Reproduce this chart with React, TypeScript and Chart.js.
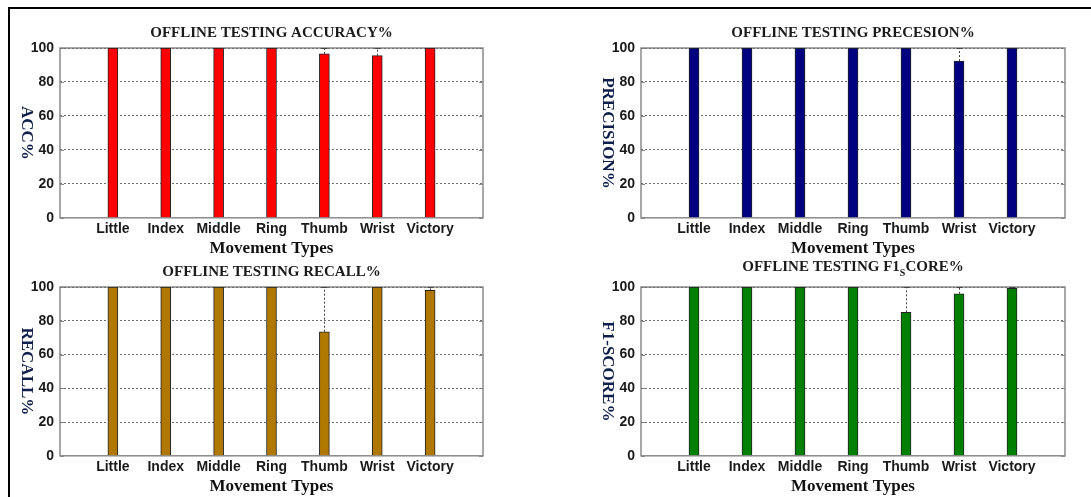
import React, { useEffect, useRef } from 'react';
import { Chart, registerables } from 'chart.js';

Chart.register(...registerables);

// ---------- data ----------
const categories = ['Little', 'Index', 'Middle', 'Ring', 'Thumb', 'Wrist', 'Victory'];
const yTicks = [0, 20, 40, 60, 80, 100];
const xTitle = 'Movement Types';

const accuracy = [100, 100, 100, 100, 96.5, 95.5, 100];
const accuracyErrTop: (number | null)[] = [null, null, null, null, 100, 100, null];

const precision = [100, 100, 100, 100, 100, 92.3, 100];
const precisionErrTop: (number | null)[] = [null, null, null, null, null, 100, null];

const recall = [100, 100, 100, 100, 73.5, 100, 98];
const recallErrTop: (number | null)[] = [null, null, null, null, 100, null, 100];

const f1score = [100, 100, 100, 100, 85, 96, 99.2];
const f1ErrTop: (number | null)[] = [null, null, null, null, 100, 100, 100];

// ---------- styling ----------
const SERIF = '"Liberation Serif", "Times New Roman", serif';
const SANS = '"Liberation Sans", Arial, sans-serif';

type Part = { text: string; sub?: boolean };

interface PanelSpec {
  title: Part[];
  yTitle: string;
  values: number[];
  errTop: (number | null)[];
  color: string;
  left: number;
  top: number;
  width: number;
  height: number;
  padTop: number;
  padRight: number;
  padBottom: number;
  axisWidth: number;
  titleGap: number;
}

function Panel({ spec }: { spec: PanelSpec }) {
  const ref = useRef<HTMLCanvasElement>(null);

  useEffect(() => {
    if (!ref.current) return;
    const labels = ['', ...categories, ''];
    const data = [null, ...spec.values, null];

    const decor = {
      id: 'decor',
      beforeDraw(chart: any) {
        const { ctx, chartArea: a, scales } = chart;
        ctx.save();
        ctx.strokeStyle = '#8a8a8a';
        ctx.lineWidth = 1.5;
        ctx.strokeRect(a.left, a.top, a.right - a.left, a.bottom - a.top);
        ctx.lineWidth = 1;
        for (const v of yTicks) {
          const y = Math.round(scales.y.getPixelForValue(v)) + 0.5;
          ctx.beginPath();
          ctx.moveTo(a.left, y);
          ctx.lineTo(a.left + 4, y);
          ctx.moveTo(a.right - 4, y);
          ctx.lineTo(a.right, y);
          ctx.stroke();
        }
        ctx.restore();
      },
      afterDatasetsDraw(chart: any) {
        const { ctx, scales } = chart;
        ctx.save();
        spec.errTop.forEach((top, i) => {
          if (top == null) return;
          const x = Math.round(scales.x.getPixelForValue(i + 1)) + 0.5;
          const y0 = scales.y.getPixelForValue(spec.values[i]);
          const y1 = scales.y.getPixelForValue(top);
          ctx.strokeStyle = '#444';
          ctx.lineWidth = 1;
          ctx.setLineDash([2, 2]);
          ctx.beginPath();
          ctx.moveTo(x, y0);
          ctx.lineTo(x, y1);
          ctx.stroke();
          ctx.setLineDash([]);
          ctx.beginPath();
          ctx.moveTo(x - 3, y1 + 0.5);
          ctx.lineTo(x + 3, y1 + 0.5);
          ctx.stroke();
        });
        ctx.restore();
      },
      afterDraw(chart: any) {
        const { ctx, chartArea: a } = chart;
        ctx.save();
        // panel title with optional subscript
        const mainFont = `bold 15px ${SERIF}`;
        const subFont = `bold 10px ${SERIF}`;
        let total = 0;
        const widths = spec.title.map((p) => {
          ctx.font = p.sub ? subFont : mainFont;
          const w = ctx.measureText(p.text).width;
          total += w;
          return w;
        });
        let x = (a.left + a.right) / 2 - total / 2;
        const y = a.top - spec.titleGap;
        ctx.fillStyle = '#1a1a1a';
        ctx.textBaseline = 'middle';
        ctx.textAlign = 'left';
        spec.title.forEach((p, i) => {
          ctx.font = p.sub ? subFont : mainFont;
          ctx.fillText(p.text, x, p.sub ? y + 6 : y);
          x += widths[i];
        });
        // y-axis title, rotated clockwise
        ctx.translate(a.left - 34, (a.top + a.bottom) / 2);
        ctx.rotate(Math.PI / 2);
        ctx.font = `bold 17px ${SERIF}`;
        ctx.fillStyle = '#0d1f4a';
        ctx.textAlign = 'center';
        ctx.textBaseline = 'middle';
        ctx.fillText(spec.yTitle, 0, 0);
        ctx.restore();
      },
    };

    const chart = new Chart(ref.current, {
      type: 'bar',
      data: {
        labels,
        datasets: [
          {
            data,
            backgroundColor: spec.color,
            borderColor: '#222',
            borderWidth: 1,
            barThickness: 10,
          },
        ],
      },
      options: {
        animation: false,
        responsive: false,
        devicePixelRatio: 1,
        layout: {
          padding: { top: spec.padTop, right: spec.padRight, bottom: spec.padBottom, left: 0 },
        },
        plugins: {
          legend: { display: false },
          tooltip: { enabled: false },
          title: { display: false },
        },
        scales: {
          x: {
            type: 'category',
            offset: false,
            grid: { display: false, drawTicks: false },
            border: { display: false },
            ticks: {
              autoSkip: false,
              maxRotation: 0,
              padding: 3,
              color: '#1a1a1a',
              font: { family: SANS, size: 14, weight: 'bold' },
            },
            title: {
              display: true,
              text: xTitle,
              color: '#111',
              padding: { top: -2, bottom: 0 },
              font: { family: SERIF, size: 17, weight: 'bold' },
            },
          },
          y: {
            min: 0,
            max: 100,
            afterBuildTicks: (s: any) => {
              s.ticks = yTicks.map((v) => ({ value: v }));
            },
            afterFit: (s: any) => {
              s.width = spec.axisWidth;
            },
            grid: {
              drawTicks: false,
              color: (c: any) => (c.tick && c.tick.value === 0 ? 'rgba(0,0,0,0)' : '#6f6f6f'),
              lineWidth: 1,
            },
            border: { display: false, dash: [2, 2] },
            ticks: {
              padding: 6,
              color: '#1a1a1a',
              font: { family: SANS, size: 14, weight: 'bold' },
            },
          },
        },
      },
      plugins: [decor],
    } as any);

    return () => chart.destroy();
  }, [spec]);

  return (
    <canvas
      ref={ref}
      width={spec.width}
      height={spec.height}
      style={{ position: 'absolute', left: spec.left, top: spec.top, width: spec.width, height: spec.height }}
    />
  );
}

const panels: PanelSpec[] = [
  {
    title: [{ text: 'OFFLINE TESTING ACCURACY%' }],
    yTitle: 'ACC%',
    values: accuracy,
    errTop: accuracyErrTop,
    color: '#ff0000',
    left: 0, top: 0, width: 545, height: 259,
    padTop: 48, padRight: 62, padBottom: 0, axisWidth: 60, titleGap: 15,
  },
  {
    title: [{ text: 'OFFLINE TESTING PRECESION%' }],
    yTitle: 'PRECISION%',
    values: precision,
    errTop: precisionErrTop,
    color: '#000080',
    left: 545, top: 0, width: 546, height: 259,
    padTop: 48, padRight: 26, padBottom: 0, axisWidth: 96, titleGap: 15,
  },
  {
    title: [{ text: 'OFFLINE TESTING RECALL%' }],
    yTitle: 'RECALL%',
    values: recall,
    errTop: recallErrTop,
    color: '#b07800',
    left: 0, top: 255, width: 545, height: 242,
    padTop: 32, padRight: 62, padBottom: 0, axisWidth: 60, titleGap: 15,
  },
  {
    title: [{ text: 'OFFLINE TESTING F1' }, { text: 'S', sub: true }, { text: 'CORE%' }],
    yTitle: 'F1-SCORE%',
    values: f1score,
    errTop: f1ErrTop,
    color: '#007f00',
    left: 545, top: 255, width: 546, height: 242,
    padTop: 32, padRight: 26, padBottom: 0, axisWidth: 96, titleGap: 20,
  },
];

export default function App() {
  return (
    <div
      style={{
        position: 'fixed',
        left: 0,
        top: 0,
        width: 1091,
        height: 497,
        background: '#fff',
        overflow: 'hidden',
      }}
    >
      <div
        style={{
          position: 'absolute',
          left: 8,
          top: 7,
          width: 1100,
          height: 500,
          borderTop: '2px solid #000',
          borderLeft: '2px solid #000',
        }}
      />
      {panels.map((p, i) => (
        <Panel key={i} spec={p} />
      ))}
    </div>
  );
}
